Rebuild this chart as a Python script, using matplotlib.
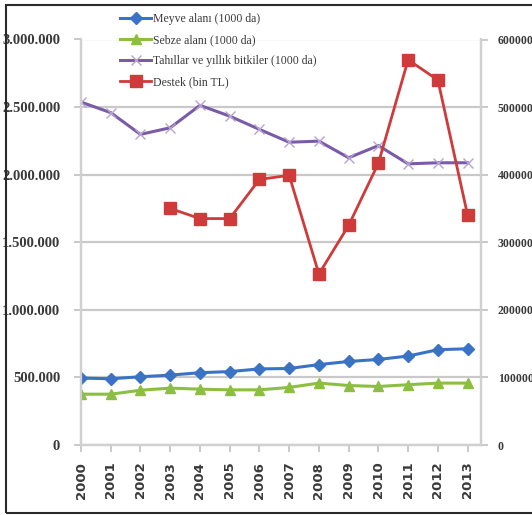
import matplotlib
matplotlib.use('Agg')
import matplotlib.pyplot as plt
import matplotlib.ticker as ticker
from matplotlib.patches import Rectangle

# ── data ──────────────────────────────────────────────
years = ['2000', '2001', '2002', '2003', '2004', '2005', '2006',
         '2007', '2008', '2009', '2010', '2011', '2012', '2013']
meyve = [495000, 490000, 505000, 517000, 535000, 543000, 563000,
         566000, 595000, 618000, 633000, 658000, 705000, 712000]
sebze = [376000, 376000, 405000, 421000, 413000, 408000, 408000,
         426000, 458000, 440000, 433000, 446000, 458000, 458000]
tahil = [2537000, 2459000, 2298000, 2347000, 2513000, 2433000, 2335000,
         2240000, 2248000, 2125000, 2215000, 2080000, 2088000, 2088000]
destek_years = ['2003', '2004', '2005', '2006', '2007', '2008', '2009',
                '2010', '2011', '2012', '2013']
destek = [350000, 335000, 335000, 393000, 399000, 253000, 325000,
          417000, 570000, 540000, 340000]

labels = ['Meyve alanı (1000 da)', 'Sebze alanı (1000 da)',
          'Tahıllar ve yıllık bitkiler (1000 da)', 'Destek (bin TL)']

C_BLUE = '#3b73c4'
C_GREEN = '#8cbf3f'
C_PURPLE = '#7a5ba8'
C_RED = '#cf3a3a'
GRID = '#c9c9c9'
TXT = '#3a3a3a'

fig = plt.figure(figsize=(5.32, 5.15), dpi=100)
ax = fig.add_axes([81 / 532, 1 - 445 / 515, 400 / 532, 405.5 / 515])
ax2 = ax.twinx()

x = list(range(len(years)))
xd = [years.index(y) for y in destek_years]

l1, = ax.plot(x, meyve, color=C_BLUE, lw=2.2, marker='D', ms=6, zorder=3)
l2, = ax.plot(x, sebze, color=C_GREEN, lw=2.2, marker='^', ms=7, zorder=3)
l3, = ax.plot(x, tahil, color=C_PURPLE, lw=2.2, marker='x', ms=7,
              markeredgecolor='#b6a3d0', markeredgewidth=1.0, zorder=3)
l4, = ax2.plot(xd, destek, color=C_RED, lw=2.0, marker='s', ms=8, zorder=3)

ax.set_ylim(0, 3000000)
ax2.set_ylim(0, 600000)
ax.set_xlim(0, 13.45)
ax.yaxis.set_major_locator(ticker.MultipleLocator(500000))
ax2.yaxis.set_major_locator(ticker.MultipleLocator(100000))
ax.yaxis.set_major_formatter(ticker.FuncFormatter(
    lambda v, p: '0' if v == 0 else f'{int(v):,}'.replace(',', '.')))
ax2.yaxis.set_major_formatter(ticker.FuncFormatter(lambda v, p: f'{int(v)}'))

ax.grid(axis='y', color=GRID, lw=1.6)
ax.set_axisbelow(True)
ax.set_xticks(x)
ax.set_xticklabels(years, rotation=90, fontsize=9.5, fontweight='bold',
                   family='DejaVu Sans', color=TXT)

for a in (ax, ax2):
    for s in a.spines.values():
        s.set_color('#d0d0d0')
        s.set_linewidth(1.6)
    a.spines['top'].set_visible(False)
    a.tick_params(colors='#c0c0c0', length=5, width=1.2)
ax.tick_params(axis='y', labelcolor=TXT, labelsize=10.5, pad=10)
ax2.tick_params(axis='y', labelcolor=TXT, labelsize=8.5, pad=7)
ax.tick_params(axis='x', labelcolor=TXT, pad=7)
for lab in ax.get_yticklabels() + ax2.get_yticklabels():
    lab.set_family('Liberation Serif')
    lab.set_fontweight('bold')

fig.legend([l1, l2, l3, l4], labels, loc='upper left',
           bbox_to_anchor=(112 / 532, 1 - 5 / 515), frameon=False,
           prop={'family': 'Liberation Serif', 'size': 8.5},
           labelspacing=0.75, handlelength=2.6, handletextpad=0.2,
           borderpad=0.2, labelcolor=TXT)

# image frame
fig.add_artist(Rectangle((6 / 532, 2 / 515), 1.2, 1 - 7 / 515,
                         transform=fig.transFigure, fill=False,
                         edgecolor='#2a2a2a', lw=1.5))

fig.savefig('out.png', dpi=100, facecolor='white')
